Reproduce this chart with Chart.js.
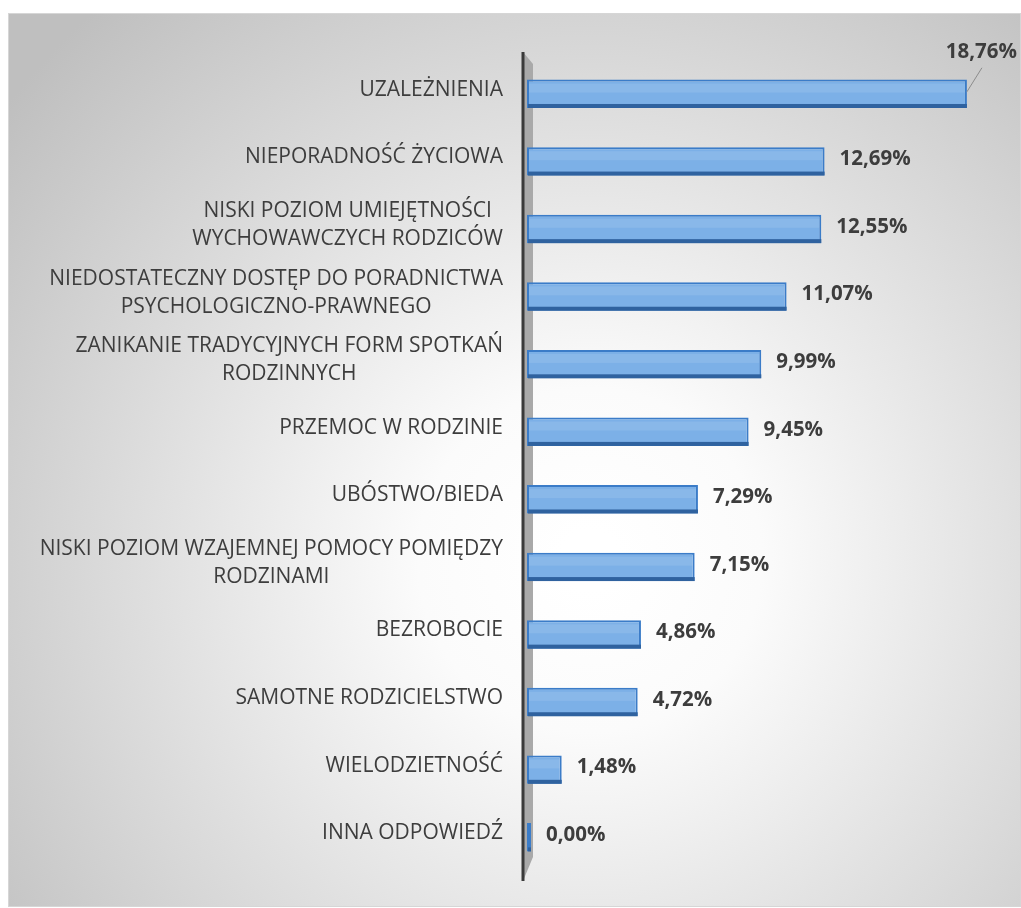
<!DOCTYPE html>
<html lang="pl">
<head>
    <meta charset="UTF-8">
    <title>Problemy rodzin</title>
    <script src="https://cdn.jsdelivr.net/npm/chart.js"></script>
    <style>
        html, body { margin: 0; padding: 0; background: #ffffff; }
        #wrap { position: relative; width: 1021px; height: 908px; }
    </style>
</head>
<body>
    <div id="wrap"><canvas id="problemsChart"></canvas></div>

    <script>
        // Categories (multi-line labels as arrays of lines)
        const categories = [
            ['UZALEŻNIENIA'],
            ['NIEPORADNOŚĆ ŻYCIOWA'],
            ['NISKI POZIOM UMIEJĘTNOŚCI ', 'WYCHOWAWCZYCH RODZICÓW'],
            ['NIEDOSTATECZNY DOSTĘP DO PORADNICTWA', 'PSYCHOLOGICZNO-PRAWNEGO'],
            ['ZANIKANIE TRADYCYJNYCH FORM SPOTKAŃ', 'RODZINNYCH'],
            ['PRZEMOC W RODZINIE'],
            ['UBÓSTWO/BIEDA'],
            ['NISKI POZIOM WZAJEMNEJ POMOCY POMIĘDZY', 'RODZINAMI'],
            ['BEZROBOCIE'],
            ['SAMOTNE RODZICIELSTWO'],
            ['WIELODZIETNOŚĆ'],
            ['INNA ODPOWIEDŹ']
        ];

        // Percentages
        const shares = [18.76, 12.69, 12.55, 11.07, 9.99, 9.45, 7.29, 7.15, 4.86, 4.72, 1.48, 0.00];

        const labelFont = '21px "Open Sans"';
        const valueFont = 'bold 20.5px "Open Sans"';
        const textColor = '#3d3d3d';

        function fmt(v) {
            return v.toFixed(2).replace('.', ',') + '%';
        }

        // grey radial background with thin frame
        const backgroundPlugin = {
            id: 'background',
            beforeDraw(chart) {
                const ctx = chart.ctx;
                ctx.save();
                ctx.fillStyle = '#ffffff';
                ctx.fillRect(0, 0, chart.width, chart.height);
                const g = ctx.createRadialGradient(590, 560, 30, 590, 560, 740);
                g.addColorStop(0, '#ffffff');
                g.addColorStop(0.2, '#fbfbfb');
                g.addColorStop(1, '#bfbfbf');
                ctx.fillStyle = g;
                ctx.fillRect(8, 13, 1012, 893);
                ctx.strokeStyle = '#d6d6d6';
                ctx.lineWidth = 1;
                ctx.strokeRect(8.5, 13.5, 1012, 893);
                ctx.restore();
            }
        };

        // 3d axis wall, drawn before the bars
        const wallPlugin = {
            id: 'wall',
            beforeDatasetsDraw(chart) {
                const ctx = chart.ctx;
                const a = chart.chartArea;
                const x = a.left - 4;
                ctx.save();
                ctx.fillStyle = '#a9a9a9';
                ctx.beginPath();
                ctx.moveTo(x, a.top - 8);
                ctx.lineTo(x + 10, a.top + 4);
                ctx.lineTo(x + 10, a.bottom - 14);
                ctx.lineTo(x, a.bottom + 10);
                ctx.closePath();
                ctx.fill();
                ctx.strokeStyle = '#3a3a3a';
                ctx.lineWidth = 3;
                ctx.beginPath();
                ctx.moveTo(x, a.top - 8);
                ctx.lineTo(x, a.bottom + 10);
                ctx.stroke();
                ctx.restore();
            }
        };

        // shading on bars + category and value labels
        const decorPlugin = {
            id: 'decor',
            afterDatasetsDraw(chart) {
                const ctx = chart.ctx;
                const meta = chart.getDatasetMeta(0);
                const yScale = chart.scales.y;
                ctx.save();
                meta.data.forEach((bar, i) => {
                    const top = bar.y - bar.height / 2;
                    const bottom = bar.y + bar.height / 2;
                    const left = bar.base;
                    const right = bar.x;
                    if (right - left > 3) {
                        // soft light band on the upper part
                        ctx.fillStyle = 'rgba(255,255,255,0.10)';
                        ctx.fillRect(left + 2, top + 4, right - left - 4, 9);
                        // dark bottom edge
                        ctx.fillStyle = '#2f629f';
                        ctx.fillRect(left + 1, bottom - 4, right - left - 1, 4);
                    }
                });

                // category labels, each block right aligned, lines centred inside the block
                ctx.font = labelFont;
                ctx.fillStyle = textColor;
                ctx.textBaseline = 'middle';
                ctx.textAlign = 'center';
                const rightEdge = chart.chartArea.left - 24;
                const lineH = 28;
                categories.forEach((lines, i) => {
                    const cy = yScale.getPixelForValue(i) - 4;
                    const w = Math.max(...lines.map(l => ctx.measureText(l.trim()).width));
                    const cx = rightEdge - w / 2;
                    lines.forEach((l, j) => {
                        const ly = cy + (j - (lines.length - 1) / 2) * lineH;
                        ctx.fillText(l.trim(), cx, ly);
                    });
                });

                // value labels
                ctx.font = valueFont;
                ctx.textAlign = 'left';
                meta.data.forEach((bar, i) => {
                    const txt = fmt(shares[i]);
                    if (i === 0) {
                        // callout above the longest bar
                        ctx.strokeStyle = '#8c8c8c';
                        ctx.lineWidth = 1;
                        ctx.beginPath();
                        ctx.moveTo(bar.x, bar.y - 2);
                        ctx.lineTo(bar.x + 15, bar.y - 26);
                        ctx.stroke();
                        ctx.textAlign = 'right';
                        ctx.fillText(txt, 1017, bar.y - 42);
                        ctx.textAlign = 'left';
                    } else {
                        ctx.fillText(txt, Math.max(bar.x, bar.base) + 15, bar.y - 2);
                    }
                });
                ctx.restore();
            }
        };

        const ctx = document.getElementById('problemsChart').getContext('2d');
        new Chart(ctx, {
            type: 'bar',
            data: {
                labels: categories,
                datasets: [{
                    data: shares,
                    backgroundColor: '#7cb0e7',
                    borderColor: '#3b7cc8',
                    borderWidth: 2,
                    borderSkipped: false,
                    minBarLength: 4,
                    barPercentage: 0.42,
                    categoryPercentage: 1
                }]
            },
            options: {
                indexAxis: 'y',
                responsive: true,
                maintainAspectRatio: false,
                animation: false,
                layout: {
                    padding: { left: 527, right: 25, top: 60, bottom: 37 }
                },
                plugins: {
                    legend: { display: false },
                    tooltip: { enabled: false }
                },
                scales: {
                    x: {
                        display: false,
                        min: 0,
                        max: 20
                    },
                    y: {
                        display: false,
                        offset: true,
                        grid: { display: false }
                    }
                }
            },
            plugins: [backgroundPlugin, wallPlugin, decorPlugin]
        });
    </script>
</body>
</html>
